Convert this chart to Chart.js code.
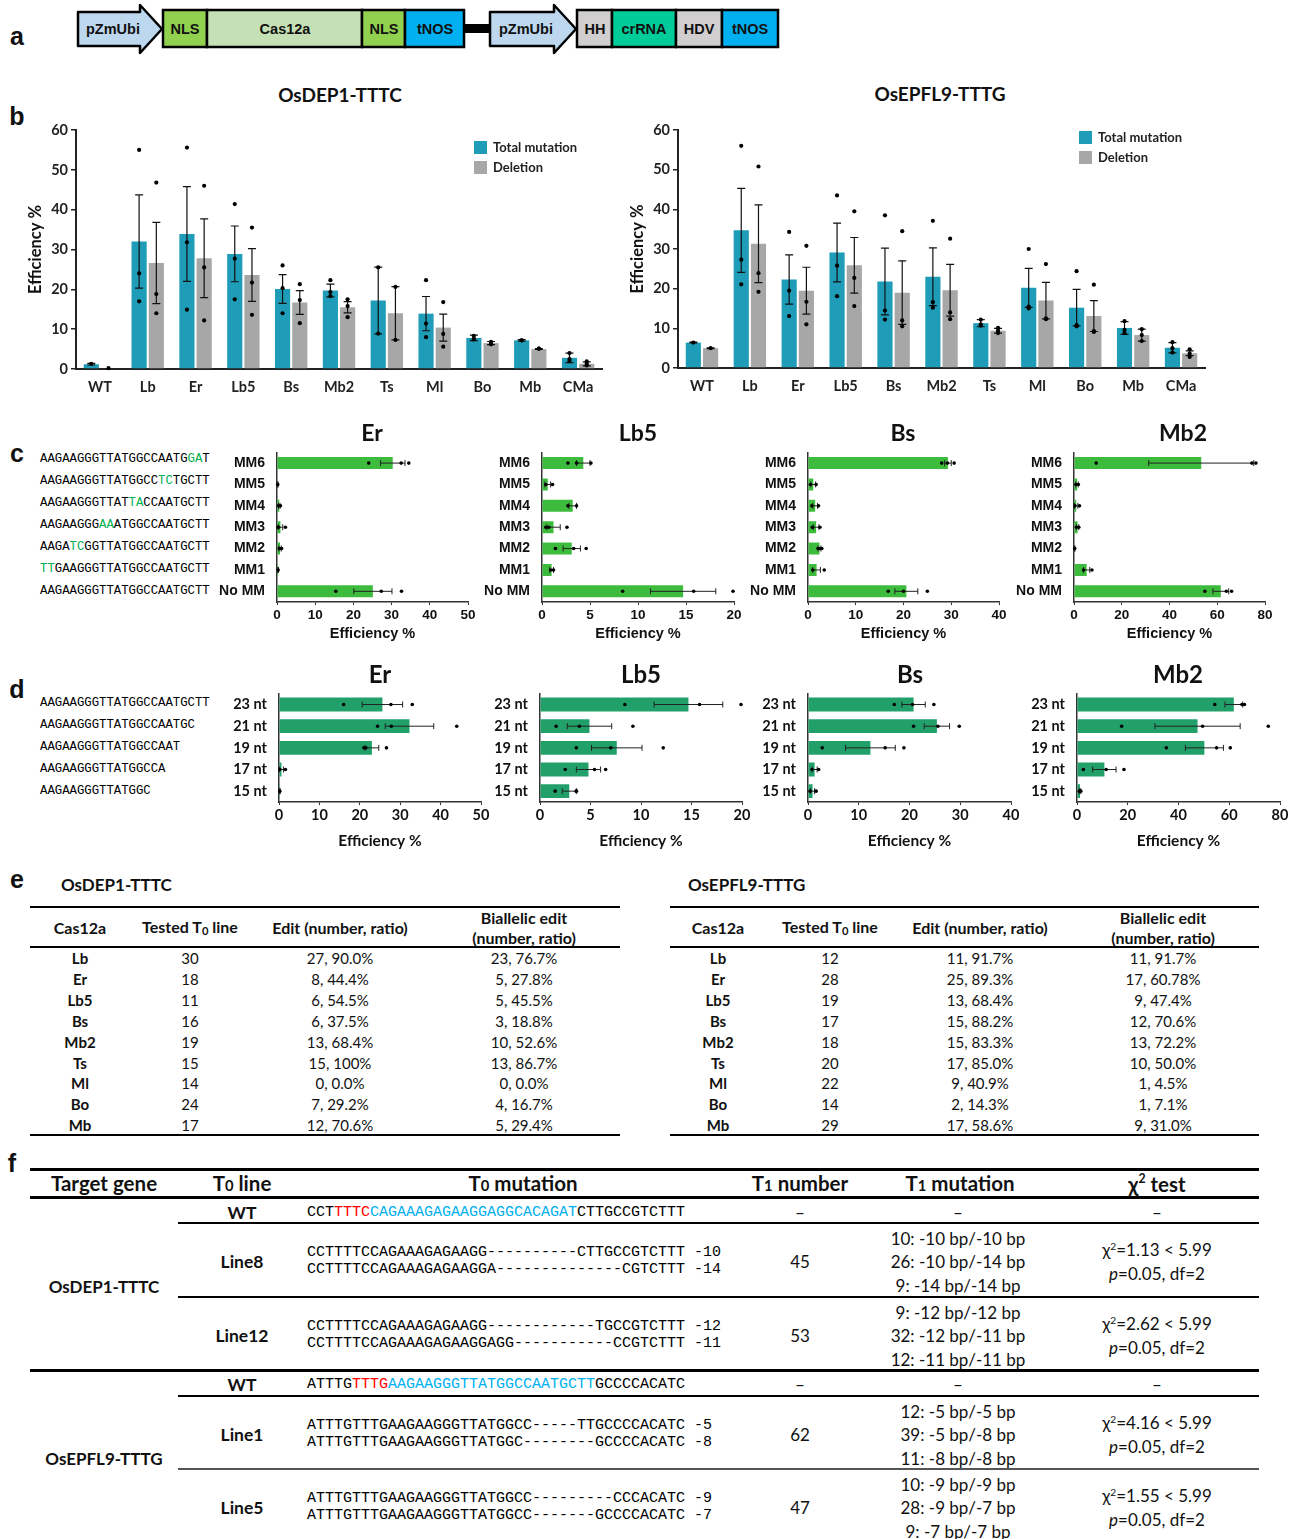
<!DOCTYPE html>
<html>
<head>
<meta charset="utf-8">
<script src="https://cdn.jsdelivr.net/npm/chart.js@4.4.1/dist/chart.umd.min.js"></script>
<style>
html, body { margin: 0; padding: 0; background: #fff; }
#fig { position: relative; width: 1298px; height: 1539px; overflow: hidden; font-family: Lato, "Open Sans", sans-serif; color: #111; }
.abs { position: absolute; white-space: nowrap; line-height: 1.15; }
.c { transform: translate(-50%, -50%); text-align: center; }
.l { transform: translateY(-50%); }
.panel { font: bold 25px "Liberation Sans", Arial, sans-serif; }
.mono { font-family: "Liberation Mono", "Courier New", monospace; color: #000; }
.rule { position: absolute; background: #000; }
</style>
</head>
<body>
<div id="fig">
  <svg width="800" height="60" style="position:absolute;left:0;top:0" font-family="Liberation Sans, Arial, sans-serif" font-weight="bold" font-size="14.5">
    <polygon points="78,12 140,12 140,5 162,29 140,53 140,46 78,46" fill="#bdd7ee" stroke="#000" stroke-width="2.5" stroke-linejoin="round"/>
    <rect x="163" y="10" width="44" height="37" fill="#92d050" stroke="#000" stroke-width="2.5"/>
    <rect x="207" y="10" width="155" height="37" fill="#c5e0b4" stroke="#000" stroke-width="2.5"/>
    <rect x="362" y="10" width="43" height="37" fill="#92d050" stroke="#000" stroke-width="2.5"/>
    <rect x="405" y="10" width="59" height="37" fill="#00b0f0" stroke="#000" stroke-width="2.5"/>
    <rect x="464" y="24" width="26" height="9" fill="#000"/>
    <polygon points="490,12 554,12 554,5 576,29 554,53 554,46 490,46" fill="#bdd7ee" stroke="#000" stroke-width="2.5" stroke-linejoin="round"/>
    <rect x="577" y="10" width="35" height="37" fill="#d0cece" stroke="#000" stroke-width="2.5"/>
    <rect x="612" y="10" width="64" height="37" fill="#00cc99" stroke="#000" stroke-width="2.5"/>
    <rect x="676" y="10" width="46" height="37" fill="#d0cece" stroke="#000" stroke-width="2.5"/>
    <rect x="722" y="10" width="56" height="37" fill="#00b0f0" stroke="#000" stroke-width="2.5"/>
    <g text-anchor="middle" fill="#111">
      <text x="113" y="34">pZmUbi</text>
      <text x="185" y="34">NLS</text>
      <text x="285" y="34">Cas12a</text>
      <text x="384" y="34">NLS</text>
      <text x="435" y="34">tNOS</text>
      <text x="526" y="34">pZmUbi</text>
      <text x="595" y="34">HH</text>
      <text x="644" y="34">crRNA</text>
      <text x="699" y="34">HDV</text>
      <text x="750" y="34">tNOS</text>
    </g>
  </svg>
</div>
<script>
// ---- panel b data ----
const casLabels = ['WT', 'Lb', 'Er', 'Lb5', 'Bs', 'Mb2', 'Ts', 'Ml', 'Bo', 'Mb', 'CMa'];

const dep1Total = [1.2, 32.0, 33.9, 28.9, 20.1, 19.7, 17.2, 13.9, 7.8, 7.2, 2.8];
const dep1TotalSE = [0.2, 11.7, 11.9, 7.0, 3.6, 1.6, 8.4, 4.3, 0.7, 0.2, 1.2];
const dep1TotalPts = [[1.3], [55, 24, 17], [55.6, 31.8, 14.9], [41.4, 27.7, 17.5], [26, 20.3, 14], [22.3, 19.3, 18.3], [25.5, 8.9], [22.3, 11.4, 8], [8.3, 7.6, 7.4], [7.2, 7.2], [4, 2.5, 2]];
const dep1Del = [0.2, 26.6, 27.8, 23.6, 16.7, 15.5, 14.0, 10.4, 6.5, 5.0, 1.3];
const dep1DelSE = [0, 10.2, 9.9, 6.6, 3.0, 1.4, 6.7, 3.4, 0.4, 0.1, 0.5];
const dep1DelPts = [[0.2], [46.8, 18.8, 14], [46, 25.5, 12.2], [35.5, 21.7, 13.6], [21.3, 17.3, 11.5], [17.5, 15.8, 13], [20.6, 7.3], [16.8, 8.8, 5.6], [6.8, 6.2, 6.6], [5.1, 5.1], [1.9, 1.3, 0.9]];

const epTotal = [6.4, 34.7, 22.3, 29.1, 21.8, 23.0, 11.3, 20.2, 15.2, 10.1, 5.1];
const epTotalSE = [0.1, 10.6, 6.2, 7.4, 8.4, 7.3, 0.9, 4.9, 4.6, 1.6, 1.3];
const epTotalPts = [[6.4], [56, 27.3, 21.1], [34.3, 19.5, 13.1], [43.5, 25.8, 18.1], [38.5, 14.5, 12.2], [37.1, 16.6, 15.2], [12.2, 11, 10.7], [30, 15.5, 15], [24.4, 10.8, 10.5], [11.8, 9.6, 8.8], [6.5, 5, 3.9]];
const epDel = [5.0, 31.3, 19.5, 25.9, 19.0, 19.6, 9.4, 17.0, 13.1, 8.3, 3.7];
const epDelSE = [0.1, 9.8, 5.9, 7.0, 8.0, 6.5, 0.6, 4.6, 3.9, 1.5, 0.6];
const epDelPts = [[5], [50.8, 23.9, 19.2], [30.8, 16.7, 11], [39.5, 22.7, 15.6], [34.5, 12, 10.5], [32.6, 14, 12.3], [10.1, 9.4, 8.8], [26.2, 12.5, 12.3], [21, 9.3, 9.1], [9.8, 8.3, 6.8], [4.7, 3.6, 2.8]];

// ---- panel c data (mismatch) ----
const mmLabels = ['MM6', 'MM5', 'MM4', 'MM3', 'MM2', 'MM1', 'No MM'];
const mmEr = [30.3, 0.2, 0.6, 0.9, 0.8, 0.3, 25.1];
const mmErSE = [3.2, 0.1, 0.2, 0.6, 0.3, 0.1, 5.0];
const mmErPts = [[24, 32.5, 34.5], [0.2], [0.4, 0.9], [0.3, 0.4, 2.2], [0.6, 1.2], [0.3], [15.4, 27.3, 32.6]];
const mmLb5 = [4.3, 0.6, 3.2, 1.2, 3.1, 1.0, 14.7];
const mmLb5SE = [0.7, 0.3, 0.4, 0.7, 0.9, 0.2, 3.4];
const mmLb5Pts = [[2.7, 3.6, 5.1], [0.4, 1.1], [2.7, 3.6], [0.4, 0.7, 2.6], [1.4, 3.3, 4.6], [0.9, 1.2], [8.4, 15.8, 19.9]];
const mmBs = [29.3, 1.1, 1.5, 1.7, 2.4, 1.8, 20.6];
const mmBsSE = [0.7, 0.5, 0.5, 0.6, 0.3, 0.8, 2.4];
const mmBsPts = [[28, 29.2, 30.6], [0.5, 1.7], [0.8, 2.2], [0.9, 2.5], [2.1, 2.5, 2.9], [1, 3.4], [16.8, 20, 25]];
const mmMb2 = [53.3, 1.3, 0.9, 1.5, 0.3, 5.3, 61.5];
const mmMb2SE = [22.0, 0.5, 0.7, 0.5, 0.1, 1.3, 3.3];
const mmMb2Pts = [[9.3, 74.5, 76.2], [0.8, 1.8], [0.4, 2.3], [1, 2], [0.3], [4, 7.5], [54.8, 63.8, 66]];

// ---- panel d data (spacer length) ----
const ntLabels = ['23 nt', '21 nt', '19 nt', '17 nt', '15 nt'];
const ntEr = [25.6, 32.3, 23.0, 0.6, 0.2];
const ntErSE = [5.0, 6.0, 1.7, 0.5, 0.1];
const ntErPts = [[16, 27.7, 33], [24.4, 27.8, 44], [21, 21.5, 26.6], [0.2, 1.6], [0.2]];
const ntLb5 = [14.7, 4.9, 7.6, 4.8, 2.9];
const ntLb5SE = [3.4, 2.2, 2.5, 1.2, 0.7];
const ntLb5Pts = [[8.4, 15.8, 19.9], [1.6, 3.9, 9.2], [3.6, 7, 12.2], [2.5, 5.4, 6.5], [1.5, 3.6, 3.6]];
const ntBs = [20.8, 25.4, 12.3, 1.3, 0.9];
const ntBsSE = [2.3, 2.5, 4.9, 0.5, 0.4];
const ntBsPts = [[17, 20.6, 24.8], [20.8, 25.6, 29.8], [2.8, 15.2, 18.9], [0.8, 2.1], [0.4, 1.6]];
const ntMb2 = [61.8, 47.5, 50.2, 10.8, 1.2];
const ntMb2SE = [3.5, 16.8, 7.5, 4.6, 0.3];
const ntMb2Pts = [[54.3, 65, 66], [17.6, 49.5, 75.4], [35.2, 55, 60.4], [2.5, 11.5, 18.5], [0.9, 1.5]];

// ---- sequences ----
const seqC = [
  ['AAGAAGGGTTATGGCCAATG', 'GA', 'T'],
  ['AAGAAGGGTTATGGCC', 'TC', 'TGCTT'],
  ['AAGAAGGGTTAT', 'TA', 'CCAATGCTT'],
  ['AAGAAGGG', 'AA', 'ATGGCCAATGCTT'],
  ['AAGA', 'TC', 'GGTTATGGCCAATGCTT'],
  ['', 'TT', 'GAAGGGTTATGGCCAATGCTT'],
  ['AAGAAGGGTTATGGCCAATGCTT', '', '']
];
const seqD = ['AAGAAGGGTTATGGCCAATGCTT', 'AAGAAGGGTTATGGCCAATGC', 'AAGAAGGGTTATGGCCAAT', 'AAGAAGGGTTATGGCCA', 'AAGAAGGGTTATGGC'];

// ---- panel e tables ----
const eCas = ['Lb', 'Er', 'Lb5', 'Bs', 'Mb2', 'Ts', 'Ml', 'Bo', 'Mb'];
const eDep1Tested = ['30', '18', '11', '16', '19', '15', '14', '24', '17'];
const eDep1Edit = ['27, 90.0%', '8, 44.4%', '6, 54.5%', '6, 37.5%', '13, 68.4%', '15, 100%', '0, 0.0%', '7, 29.2%', '12, 70.6%'];
const eDep1Bi = ['23, 76.7%', '5, 27.8%', '5, 45.5%', '3, 18.8%', '10, 52.6%', '13, 86.7%', '0, 0.0%', '4, 16.7%', '5, 29.4%'];
const eEpTested = ['12', '28', '19', '17', '18', '20', '22', '14', '29'];
const eEpEdit = ['11, 91.7%', '25, 89.3%', '13, 68.4%', '15, 88.2%', '15, 83.3%', '17, 85.0%', '9, 40.9%', '2, 14.3%', '17, 58.6%'];
const eEpBi = ['11, 91.7%', '17, 60.78%', '9, 47.4%', '12, 70.6%', '13, 72.2%', '10, 50.0%', '1, 4.5%', '1, 7.1%', '9, 31.0%'];

const TEAL = '#1f9cb7', GRAY = '#a7a7a7', GREEN_C = '#3dbb3d', GREEN_D = '#21a06a';
Chart.defaults.font.family = 'Lato, "Open Sans", sans-serif';
Chart.defaults.color = '#111';

const fig = document.getElementById('fig');
function put(x, y, html, style, mode) {
  const d = document.createElement('div');
  d.className = 'abs ' + (mode || 'c');
  d.style.left = x + 'px';
  d.style.top = y + 'px';
  if (style) d.style.cssText += style;
  d.innerHTML = html;
  fig.appendChild(d);
  return d;
}
function rule(x1, x2, y, h, color) {
  const d = document.createElement('div');
  d.className = 'rule';
  d.style.cssText = `left:${x1}px;top:${y - h / 2}px;width:${x2 - x1}px;height:${h}px;background:${color || '#000'}`;
  fig.appendChild(d);
}
function chartBox(area, yW, xH, padT, padR) {
  const cv = document.createElement('canvas');
  const w = area.r - area.l + yW + padR, h = area.b - area.t + padT + xH;
  cv.width = w; cv.height = h;
  cv.style.cssText = `position:absolute;left:${area.l - yW}px;top:${area.t - padT}px;width:${w}px;height:${h}px;`;
  fig.appendChild(cv);
  return cv;
}

// error bars (mean ± SE) and replicate dots, placed with the value scale
const errDots = {
  id: 'errDots',
  afterDatasetsDraw(chart, args, opts) {
    const ctx = chart.ctx;
    const horiz = chart.options.indexAxis === 'y';
    const vs = horiz ? chart.scales.x : chart.scales.y;
    chart.data.datasets.forEach((ds, di) => {
      const meta = chart.getDatasetMeta(di);
      meta.data.forEach((bar, i) => {
        const m = ds.data[i], e = ds.errors[i];
        const c = horiz ? bar.y : bar.x;
        ctx.save();
        ctx.strokeStyle = opts.color || '#111';
        ctx.lineWidth = opts.width || 1.2;
        if (e > 0) {
          const a = vs.getPixelForValue(Math.max(0, m - e)), b = vs.getPixelForValue(m + e), cap = opts.cap || 4;
          ctx.beginPath();
          if (horiz) {
            ctx.moveTo(a, c); ctx.lineTo(b, c);
            ctx.moveTo(a, c - cap); ctx.lineTo(a, c + cap);
            ctx.moveTo(b, c - cap); ctx.lineTo(b, c + cap);
          } else {
            ctx.moveTo(c, a); ctx.lineTo(c, b);
            ctx.moveTo(c - cap, a); ctx.lineTo(c + cap, a);
            ctx.moveTo(c - cap, b); ctx.lineTo(c + cap, b);
          }
          ctx.stroke();
        }
        ctx.fillStyle = '#000';
        (ds.points[i] || []).forEach(p => {
          const v = vs.getPixelForValue(p);
          ctx.beginPath();
          if (horiz) ctx.arc(v, c, opts.r || 2, 0, Math.PI * 2);
          else ctx.arc(c, v, opts.r || 2, 0, Math.PI * 2);
          ctx.fill();
        });
        ctx.restore();
      });
    });
  }
};

function groupedChart(area, total, totalSE, totalPts, del, delSE, delPts) {
  const yW = 58, xH = 32, padT = 12, padR = 10;
  const cv = chartBox(area, yW, xH, padT, padR);
  new Chart(cv, {
    type: 'bar',
    data: {
      labels: casLabels,
      datasets: [
        { label: 'Total mutation', data: total, errors: totalSE, points: totalPts, backgroundColor: TEAL, categoryPercentage: 0.72, barPercentage: 0.88 },
        { label: 'Deletion', data: del, errors: delSE, points: delPts, backgroundColor: GRAY, categoryPercentage: 0.72, barPercentage: 0.88 }
      ]
    },
    options: {
      responsive: false, animation: false,
      layout: { padding: { top: padT, right: padR } },
      plugins: { legend: { display: false }, tooltip: { enabled: false }, errDots: { cap: 4, width: 1.2, r: 2.1 } },
      scales: {
        x: {
          grid: { display: false }, border: { color: '#222', width: 2 },
          ticks: { font: { weight: 'bold', size: 14.5 }, color: '#222', padding: 2 },
          afterFit: s => { s.height = xH; }
        },
        y: {
          min: 0, max: 60,
          ticks: { stepSize: 10, font: { weight: 'bold', size: 14.5 }, color: '#222', padding: 3 },
          grid: { drawOnChartArea: false, tickLength: 5, color: '#222', lineWidth: 1.5 },
          border: { color: '#222', width: 2 },
          title: { display: true, text: 'Efficiency %', font: { weight: 'bold', size: 16.5 }, color: '#111', padding: { top: 8, bottom: 0 } },
          afterFit: s => { s.width = yW; }
        }
      }
    },
    plugins: [errDots]
  });
}

function hbarChart(area, labels, vals, se, pts, max, step, color, cfg) {
  const cv = chartBox(area, cfg.yW, cfg.xH, cfg.padT, cfg.padR);
  new Chart(cv, {
    type: 'bar',
    data: { labels, datasets: [{ data: vals, errors: se, points: pts, backgroundColor: color, categoryPercentage: cfg.cat, barPercentage: 1 }] },
    options: {
      indexAxis: 'y', responsive: false, animation: false,
      layout: { padding: { top: cfg.padT, right: cfg.padR } },
      plugins: { legend: { display: false }, tooltip: { enabled: false }, errDots: { cap: 3, width: 1, r: 1.8, color: '#222' } },
      scales: {
        y: {
          grid: { display: false }, border: { color: '#333', width: 1.5 },
          ticks: { font: cfg.yFont, color: '#111', padding: 4 },
          afterFit: s => { s.width = cfg.yW; }
        },
        x: {
          min: 0, max,
          ticks: { stepSize: step, font: cfg.xFont, color: '#111', padding: 2 },
          grid: { drawOnChartArea: false, tickLength: 3, color: '#333' },
          border: { color: '#333', width: 1.5 },
          title: { display: true, text: 'Efficiency %', font: cfg.tFont, color: '#111', padding: { top: 0, bottom: cfg.tPadB } },
          afterFit: s => { s.height = cfg.xH; }
        }
      }
    },
    plugins: [errDots]
  });
}

// ---- panel labels ----
put(17, 36, 'a', '', 'c panel');
put(17, 116, 'b', '', 'c panel');
put(17, 453, 'c', '', 'c panel');
put(17, 689, 'd', '', 'c panel');
put(17, 879, 'e', '', 'c panel');
put(12, 1163, 'f', '', 'c panel');

// ---- panel b ----
put(340, 95, 'OsDEP1-TTTC', 'font-weight:bold;font-size:19px;');
put(940, 94, 'OsEPFL9-TTTG', 'font-weight:bold;font-size:19px;');
groupedChart({ l: 76, r: 602, t: 130, b: 369 }, dep1Total, dep1TotalSE, dep1TotalPts, dep1Del, dep1DelSE, dep1DelPts);
groupedChart({ l: 678, r: 1205, t: 130, b: 368 }, epTotal, epTotalSE, epTotalPts, epDel, epDelSE, epDelPts);
function legend(x, y) {
  [[TEAL, 'Total mutation'], [GRAY, 'Deletion']].forEach((it, k) => {
    const yy = y + k * 20;
    const sw = document.createElement('div');
    sw.style.cssText = `position:absolute;left:${x}px;top:${yy - 6}px;width:13px;height:13px;background:${it[0]}`;
    fig.appendChild(sw);
    put(x + 19, yy, it[1], 'font-weight:bold;font-size:13px;color:#222;', 'l');
  });
}
legend(474, 147);
legend(1079, 137);

// ---- panel c ----
seqC.forEach((s, i) => {
  put(40, 459 + i * 22, `${s[0]}<span style="color:#00b050">${s[1]}</span>${s[2]}`, 'font-size:12.3px;', 'l mono');
});
const cCfg = { yW: 58, xH: 44, padT: 8, padR: 14, cat: 0.56, tPadB: 3,
  yFont: { family: '"Liberation Sans", Arial, sans-serif', weight: 'bold', size: 14 },
  xFont: { family: '"Liberation Sans", Arial, sans-serif', weight: 'bold', size: 13.5 },
  tFont: { family: '"Liberation Sans", Arial, sans-serif', weight: 'bold', size: 14.5 } };
hbarChart({ l: 277, r: 468, t: 448, b: 602 }, mmLabels, mmEr, mmErSE, mmErPts, 50, 10, GREEN_C, cCfg);
hbarChart({ l: 542, r: 734, t: 448, b: 602 }, mmLabels, mmLb5, mmLb5SE, mmLb5Pts, 20, 5, GREEN_C, cCfg);
hbarChart({ l: 808, r: 999, t: 448, b: 602 }, mmLabels, mmBs, mmBsSE, mmBsPts, 40, 10, GREEN_C, cCfg);
hbarChart({ l: 1074, r: 1265, t: 448, b: 602 }, mmLabels, mmMb2, mmMb2SE, mmMb2Pts, 80, 20, GREEN_C, cCfg);
[['Er', 372], ['Lb5', 638], ['Bs', 903], ['Mb2', 1183]].forEach(t => put(t[1], 432, t[0], 'font-weight:bold;font-size:23px;'));

// ---- panel d ----
seqD.forEach((s, i) => put(40, 703 + i * 22, s, 'font-size:12.3px;', 'l mono'));
const dCfg = { yW: 56, xH: 50, padT: 11, padR: 12, cat: 0.64, tPadB: 2,
  yFont: { weight: 'bold', size: 14.5 }, xFont: { weight: 'bold', size: 14.5 }, tFont: { weight: 'bold', size: 15.5 } };
hbarChart({ l: 279, r: 481, t: 692, b: 802 }, ntLabels, ntEr, ntErSE, ntErPts, 50, 10, GREEN_D, dCfg);
hbarChart({ l: 540, r: 742, t: 692, b: 802 }, ntLabels, ntLb5, ntLb5SE, ntLb5Pts, 20, 5, GREEN_D, dCfg);
hbarChart({ l: 808, r: 1011, t: 692, b: 802 }, ntLabels, ntBs, ntBsSE, ntBsPts, 40, 10, GREEN_D, dCfg);
hbarChart({ l: 1077, r: 1280, t: 692, b: 802 }, ntLabels, ntMb2, ntMb2SE, ntMb2Pts, 80, 20, GREEN_D, dCfg);
[['Er', 380], ['Lb5', 641], ['Bs', 910], ['Mb2', 1178]].forEach(t => put(t[1], 674, t[0], 'font-weight:bold;font-size:24px;'));

// ---- panel e ----
function eTable(x1, x2, titleX, cols, title, tested, edit, bi) {
  put(titleX, 885, title, 'font-weight:bold;font-size:17px;', 'l');
  rule(x1, x2, 907, 2.5);
  rule(x1, x2, 947, 1.5);
  rule(x1, x2, 1135, 2.5);
  const hs = 'font-weight:bold;font-size:16px;';
  put(cols[0], 928, 'Cas12a', hs);
  put(cols[1], 928, 'Tested T<sub style="font-size:0.7em;vertical-align:-0.25em">0</sub> line', hs);
  put(cols[2], 928, 'Edit (number, ratio)', hs);
  put(cols[3], 918, 'Biallelic edit', hs);
  put(cols[3], 938, '(number, ratio)', hs);
  eCas.forEach((c, i) => {
    const y = 959 + i * 20.9;
    put(cols[0], y, c, 'font-weight:bold;font-size:15px;');
    put(cols[1], y, tested[i], 'font-size:15px;');
    put(cols[2], y, edit[i], 'font-size:15px;');
    put(cols[3], y, bi[i], 'font-size:15px;');
  });
}
eTable(30, 620, 61, [80, 190, 340, 524], 'OsDEP1-TTTC', eDep1Tested, eDep1Edit, eDep1Bi);
eTable(670, 1259, 688, [718, 830, 980, 1163], 'OsEPFL9-TTTG', eEpTested, eEpEdit, eEpBi);

// ---- panel f ----
const sub = s => `<span style="font-size:0.72em">${s}</span>`;
const hf = 'font-weight:bold;font-size:20.5px;';
rule(30, 1259, 1169, 3);
rule(30, 1259, 1197, 3);
put(104, 1184, 'Target gene', hf);
put(242, 1184, 'T' + sub('0') + ' line', hf);
put(523, 1184, 'T' + sub('0') + ' mutation', hf);
put(800, 1184, 'T' + sub('1') + ' number', hf);
put(960, 1184, 'T' + sub('1') + ' mutation', hf);
put(1157, 1184, 'χ<sup style="font-size:0.6em;vertical-align:0.7em">2</sup> test', hf);
rule(178, 1259, 1223, 1.5);
rule(178, 1259, 1297, 1.5);
rule(30, 1259, 1370, 3);
rule(178, 1259, 1396, 1.5);
rule(178, 1259, 1469, 1.5, '#555');

const fGenes = [['OsDEP1-TTTC', 1287], ['OsEPFL9-TTTG', 1459]];
const fLines = [
  { name: 'WT', y: 1213, seq: ['CCT<span style="color:#ff0000">TTTC</span><span style="color:#00b0f0">CAGAAAGAGAAGGAGGCACAGAT</span>CTTGCCGTCTTT'], n: '–', mut: ['–'], chi: ['–'] },
  { name: 'Line8', y: 1262, seq: ['CCTTTTCCAGAAAGAGAAGG----------CTTGCCGTCTTT -10', 'CCTTTTCCAGAAAGAGAAGGA--------------CGTCTTT -14'], n: '45',
    mut: ['10: -10 bp/-10 bp', '26: -10 bp/-14 bp', '9: -14 bp/-14 bp'], chi: ['1.13'] },
  { name: 'Line12', y: 1336, seq: ['CCTTTTCCAGAAAGAGAAGG------------TGCCGTCTTT -12', 'CCTTTTCCAGAAAGAGAAGGAGG-----------CCGTCTTT -11'], n: '53',
    mut: ['9: -12 bp/-12 bp', '32: -12 bp/-11 bp', '12: -11 bp/-11 bp'], chi: ['2.62'] },
  { name: 'WT', y: 1385, seq: ['ATTTG<span style="color:#ff0000">TTTG</span><span style="color:#00b0f0">AAGAAGGGTTATGGCCAATGCTT</span>GCCCCACATC'], n: '–', mut: ['–'], chi: ['–'] },
  { name: 'Line1', y: 1435, seq: ['ATTTGTTTGAAGAAGGGTTATGGCC-----TTGCCCCACATC -5', 'ATTTGTTTGAAGAAGGGTTATGGC--------GCCCCACATC -8'], n: '62',
    mut: ['12: -5 bp/-5 bp', '39: -5 bp/-8 bp', '11: -8 bp/-8 bp'], chi: ['4.16'] },
  { name: 'Line5', y: 1508, seq: ['ATTTGTTTGAAGAAGGGTTATGGCC---------CCCACATC -9', 'ATTTGTTTGAAGAAGGGTTATGGCC-------GCCCCACATC -7'], n: '47',
    mut: ['10: -9 bp/-9 bp', '28: -9 bp/-7 bp', '9: -7 bp/-7 bp'], chi: ['1.55'] }
];
fGenes.forEach(g => put(104, g[1], g[0], 'font-weight:bold;font-size:17px;'));
const fs = 'font-size:17px;';
fLines.forEach(r => {
  put(242, r.y, r.name, 'font-weight:bold;font-size:17.5px;');
  if (r.seq.length === 1) {
    put(307, r.y, r.seq[0], 'font-size:15px;', 'l mono');
  } else {
    put(307, r.y - 9, r.seq[0], 'font-size:15px;', 'l mono');
    put(307, r.y + 8, r.seq[1], 'font-size:15px;', 'l mono');
  }
  put(800, r.y, r.n, fs);
  if (r.mut.length === 1) {
    put(958, r.y, r.mut[0], fs);
    put(1157, r.y, r.chi[0], fs);
  } else {
    r.mut.forEach((m, k) => put(958, r.y - 23.5 + k * 23.5, m, fs));
    put(1157, r.y - 12, 'χ<sup style="font-size:0.6em;vertical-align:0.6em">2</sup>=' + r.chi[0] + ' &lt; 5.99', fs);
    put(1157, r.y + 12, '<i>p</i>=0.05, df=2', fs);
  }
});
</script>
</body>
</html>
